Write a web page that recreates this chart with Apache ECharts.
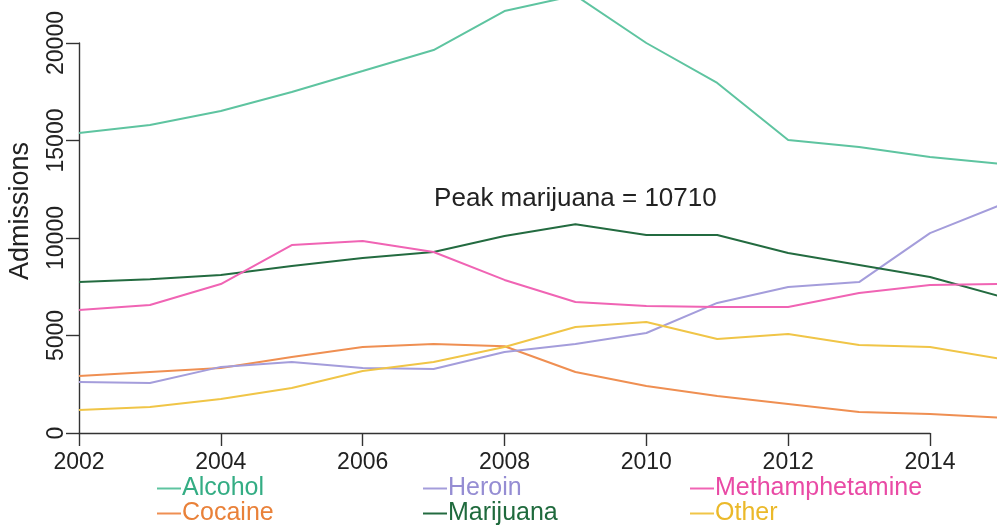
<!DOCTYPE html>
<html>
<head>
<meta charset="utf-8">
<script src="https://cdn.jsdelivr.net/npm/echarts@6/dist/echarts.min.js"></script>
<style>
  html, body { margin: 0; padding: 0; background: #fff; }
  #chart { width: 997px; height: 527px; }
</style>
</head>
<body>
<div id="chart"></div>
<script>
// treatment admissions by substance, 2002-2015
const years = [2002, 2003, 2004, 2005, 2006, 2007, 2008, 2009, 2010, 2011, 2012, 2013, 2014, 2015];
const alcohol = [15380, 15800, 16510, 17490, 18560, 19640, 21640, 22440, 20000, 17950, 15030, 14670, 14150, 13800];
const cocaine = [2920, 3130, 3330, 3900, 4410, 4560, 4450, 3130, 2410, 1900, 1490, 1080, 970, 780];
const heroin = [2620, 2560, 3390, 3640, 3330, 3280, 4150, 4560, 5130, 6670, 7490, 7740, 10250, 11700];
const marijuana = [7740, 7880, 8100, 8560, 8970, 9280, 10100, 10710, 10150, 10150, 9230, 8620, 8000, 7000];
const meth = [6310, 6560, 7640, 9640, 9850, 9280, 7850, 6720, 6510, 6460, 6460, 7180, 7590, 7640];
const other = [1180, 1330, 1740, 2310, 3180, 3640, 4410, 5440, 5690, 4820, 5080, 4510, 4410, 3800];

const xTicks = [2002, 2014, 2];      // min, max, step of the drawn x axis
const yTicks = [0, 20000, 5000];     // min, max, step of the drawn y axis

// the original is cropped: the plot area runs a little past 2014 and above 20000
const xPx = 851 / 12;                // pixels per year
const yPx = 390 / 20000;             // pixels per admission
const dataXMax = 2002 + 918 / xPx;
const dataYMax = 433 / yPx;

const font = "'Liberation Sans', Arial, sans-serif";
const colors = {
  Alcohol: "#5ec4a0",
  Cocaine: "#ef8f52",
  Heroin: "#a49ddb",
  Marijuana: "#236b40",
  Methamphetamine: "#f064b4",
  Other: "#f0c547"
};
const textColors = {
  Alcohol: "#34ad84",
  Cocaine: "#e98139",
  Heroin: "#958dd3",
  Marijuana: "#1f6a3d",
  Methamphetamine: "#e94aa5",
  Other: "#ebb92a"
};

const pairs = arr => arr.map((v, i) => [years[i], v]);

const peakIdx = marijuana.indexOf(Math.max(...marijuana));

function makeSeries(name, arr) {
  const s = {
    name: name,
    type: "line",
    xAxisIndex: 1,
    yAxisIndex: 1,
    data: pairs(arr),
    showSymbol: false,
    symbol: "none",
    clip: true,
    lineStyle: { width: 2, color: colors[name] },
    itemStyle: { color: colors[name] },
    emphasis: { disabled: true },
    animation: false
  };
  if (name === "Marijuana") {
    s.markPoint = {
      symbol: "circle",
      symbolSize: 0,
      data: [{ coord: [years[peakIdx], marijuana[peakIdx]] }],
      label: {
        show: true,
        position: "inside",
        offset: [0, -25],
        formatter: "Peak marijuana = " + marijuana[peakIdx],
        color: "#222",
        fontSize: 26,
        fontFamily: font
      }
    };
  }
  return s;
}

function legendCol(left, names) {
  return {
    orient: "vertical",
    left: left,
    top: 476,
    itemGap: 0,
    itemWidth: 24,
    itemHeight: 2,
    icon: "rect",
    selectedMode: false,
    padding: 0,
    data: names.map(n => ({
      name: n,
      itemStyle: { color: colors[n] },
      textStyle: { color: textColors[n] }
    })),
    textStyle: { fontSize: 25, fontFamily: font, lineHeight: 24, padding: [0, 0, 0, -4] }
  };
}

const axisLine = { show: true, lineStyle: { color: "#333", width: 1.4 } };
const axisTick = { show: true, length: 13, lineStyle: { color: "#333", width: 1.4 } };

const option = {
  backgroundColor: "#fff",
  animation: false,
  grid: [
    // grid drawing the axes (ticks span only)
    { left: 79, top: 43, width: 851, height: 390 },
    // grid holding the data, reaching the canvas edges
    { left: 79, top: 0, width: 918, height: 433 }
  ],
  xAxis: [
    {
      gridIndex: 0, type: "value",
      min: xTicks[0], max: xTicks[1], interval: xTicks[2],
      axisLine: axisLine, axisTick: axisTick, splitLine: { show: false },
      axisLabel: { color: "#222", fontSize: 23, fontFamily: font, margin: 18, formatter: v => String(v) }
    },
    { gridIndex: 1, type: "value", min: 2002, max: dataXMax, show: false, splitLine: { show: false } }
  ],
  yAxis: [
    {
      gridIndex: 0, type: "value",
      min: yTicks[0], max: yTicks[1], interval: yTicks[2],
      axisLine: axisLine, axisTick: axisTick, splitLine: { show: false },
      axisLabel: { color: "#222", fontSize: 23, fontFamily: font, margin: 11, rotate: 90, formatter: v => String(v) }
    },
    { gridIndex: 1, type: "value", min: 0, max: dataYMax, show: false, splitLine: { show: false } }
  ],
  legend: [
    legendCol(157, ["Alcohol", "Cocaine"]),
    legendCol(423, ["Heroin", "Marijuana"]),
    legendCol(690, ["Methamphetamine", "Other"])
  ],
  graphic: [
    {
      type: "text",
      x: 21, y: 211,
      rotation: Math.PI / 2,
      style: {
        text: "Admissions",
        fill: "#222",
        font: "27px " + font,
        textAlign: "center",
        textVerticalAlign: "middle"
      }
    }
  ],
  series: [
    makeSeries("Alcohol", alcohol),
    makeSeries("Cocaine", cocaine),
    makeSeries("Heroin", heroin),
    makeSeries("Marijuana", marijuana),
    makeSeries("Methamphetamine", meth),
    makeSeries("Other", other)
  ]
};

const chart = echarts.init(document.getElementById("chart"), null, { renderer: "canvas" });
chart.setOption(option);
</script>
</body>
</html>
